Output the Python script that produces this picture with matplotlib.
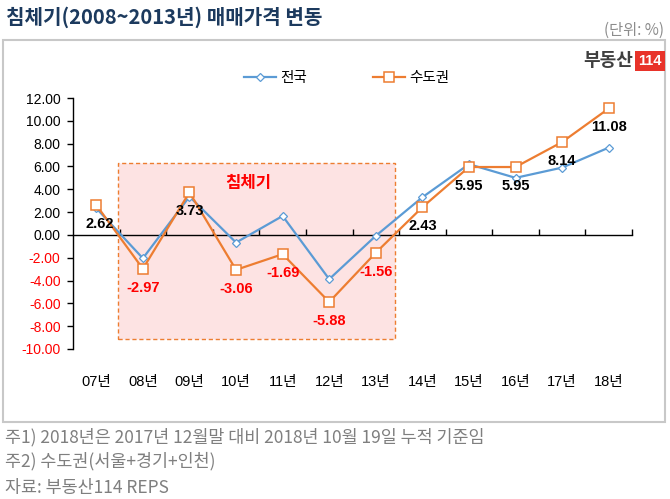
import matplotlib.pyplot as plt
from matplotlib.patches import Rectangle

plt.rcParams['font.family'] = ['Liberation Sans', 'Noto Sans CJK KR', 'DejaVu Sans']

# data
years = ["07년", "08년", "09년", "10년", "11년", "12년", "13년", "14년", "15년", "16년", "17년", "18년"]
nation = [2.34, -2.05, 3.36, -0.67, 1.66, -3.88, -0.08, 3.30, 6.20, 5.00, 5.90, 7.65]
capital = [2.62, -2.97, 3.73, -3.06, -1.69, -5.88, -1.56, 2.43, 5.95, 5.95, 8.14, 11.08]
y_ticks = [-10, -8, -6, -4, -2, 0, 2, 4, 6, 8, 10, 12]
slump_first, slump_last = "08년", "13년"
slump_top, slump_bottom = 6.28, -9.13

BLUE = "#5B9BD5"
ORANGE = "#ED7D31"
RED = "#FF0000"

fig = plt.figure(figsize=(6.7, 4.99), dpi=100)
ax = fig.add_axes([73 / 670, 1 - 349 / 499, 559 / 670, 251 / 499])

x = list(range(len(years)))

# recession box
i0 = years.index(slump_first)
i1 = years.index(slump_last)
ax.add_patch(Rectangle((i0 - 0.53, slump_bottom), (i1 + 0.42) - (i0 - 0.53), slump_top - slump_bottom,
                       facecolor="#FDE3E3", edgecolor=ORANGE, ls=(0, (3, 2)), lw=1, zorder=0))
ax.text((i0 + i1) / 2 - 0.24, 4.55, "침체기", color=RED, fontsize=12, fontweight="bold",
        ha="center", va="center", family=["Noto Sans CJK KR"])

ax.plot(x, nation, color=BLUE, lw=1.6, marker="D", ms=4.5, mfc="white", mec=BLUE, mew=0.9,
        label="전국", zorder=3)
ax.plot(x, capital, color=ORANGE, lw=1.6, marker="s", ms=6.5, mfc="white", mec=ORANGE, mew=1.1,
        label="수도권", zorder=4)

for xi, v in zip(x, capital):
    dx = 3 if xi == 0 else 0
    ax.annotate(f"{v:.2f}", (xi, v), xytext=(dx, -19), textcoords="offset pixels",
                ha="center", va="center", fontsize=10.5, fontweight="bold",
                color=RED if v < 0 else "black", zorder=5)

ax.set_xlim(-0.5, len(years) - 0.5)
ax.set_ylim(-10, 12)
ax.set_yticks(y_ticks)
ax.set_yticklabels([f"{t:.2f}" for t in y_ticks], fontsize=10)
for lab, t in zip(ax.get_yticklabels(), y_ticks):
    if t < 0:
        lab.set_color(RED)
ax.tick_params(axis="y", direction="out", length=4, width=1, pad=5)

for s in ["top", "right"]:
    ax.spines[s].set_visible(False)
ax.spines["bottom"].set_position(("data", 0))
ax.spines["left"].set_linewidth(1)
ax.spines["bottom"].set_linewidth(1)
ax.set_xticks([i + 0.5 for i in x])
ax.set_xticklabels([])
ax.tick_params(axis="x", direction="in", length=4, width=1)

sec = ax.secondary_xaxis("bottom")
sec.set_xticks(x)
sec.set_xticklabels(years, fontsize=10.5)
sec.tick_params(length=0, pad=19)
sec.spines["bottom"].set_visible(False)

ax.legend(loc="center", bbox_to_anchor=(0.49, 1.08), ncol=2, frameon=False,
          fontsize=10.5, handlelength=2.2, columnspacing=4.5, handletextpad=0.3)

# frame, title, notes
fig.patches.append(Rectangle((3 / 670, 1 - 422 / 499), 662 / 670, 382 / 499,
                             transform=fig.transFigure, fill=False, ec="#C8C8C8", lw=1.5))
fig.text(6 / 670, 1 - 17 / 499, "침체기(2008~2013년) 매매가격 변동", fontsize=14.5,
         fontweight="bold", color="#1C3A5E", va="center", family=["Noto Sans CJK KR"])
fig.text(664 / 670, 1 - 30 / 499, "(단위: %)", fontsize=11, color="#8C8C8C",
         ha="right", va="center", family=["Noto Sans CJK KR"])

# logo
fig.text(633 / 670, 1 - 61 / 499, "부동산", fontsize=13, fontweight="bold", color="#3F3F3F",
         ha="right", va="center", family=["Noto Sans CJK KR"])
fig.text(650 / 670, 1 - 61 / 499, "114", fontsize=10.5, fontweight="bold", color="white",
         ha="center", va="center",
         bbox=dict(boxstyle="square,pad=0.2", fc="#E8332A", ec="none"))

notes = ["주1) 2018년은 2017년 12월말 대비 2018년 10월 19일 누적 기준임",
         "주2) 수도권(서울+경기+인천)",
         "자료: 부동산114 REPS"]
for ny, t in zip([437, 461, 488], notes):
    fig.text(5 / 670, 1 - ny / 499, t, fontsize=12.5, color="#7F7F7F", va="center",
             family=["Noto Sans CJK KR"])

fig.savefig("out.png", dpi=100)
